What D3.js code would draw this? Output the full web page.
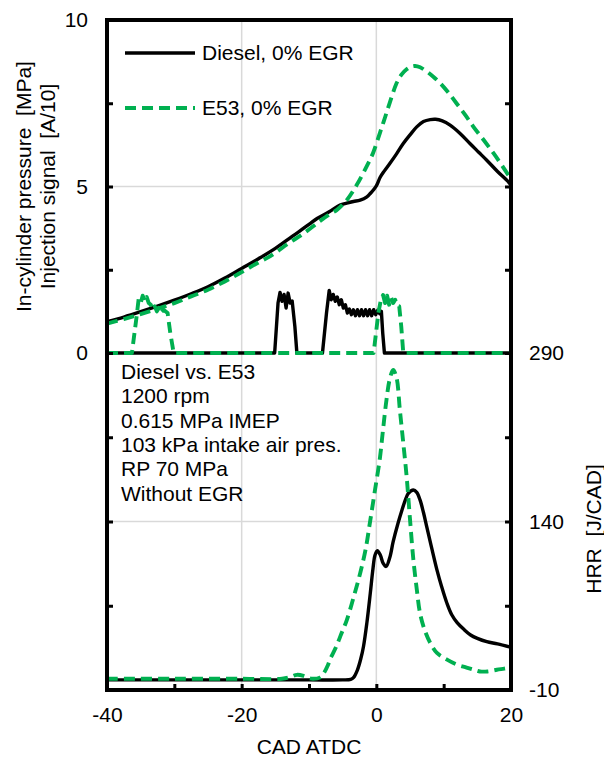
<!DOCTYPE html>
<html>
<head>
<meta charset="utf-8">
<script src="https://cdn.jsdelivr.net/npm/d3@7/dist/d3.min.js"></script>
<style>
  html, body { margin: 0; padding: 0; background: #fff; }
  svg { display: block; }
  text { font-family: "Liberation Sans", Arial, sans-serif; fill: #000; }
</style>
</head>
<body>
<div id="chart"></div>
<script>
// In-cylinder pressure [MPa] vs crank angle (CAD ATDC)
const dieselPressure = [
  [-40, 0.94], [-37.5, 1.08], [-35, 1.24], [-32.5, 1.41], [-30, 1.59], [-27.5, 1.78],
  [-25, 1.99], [-22.5, 2.25], [-20, 2.54], [-17.5, 2.83], [-15, 3.14], [-12.5, 3.5],
  [-10, 3.86], [-8.8, 4.04], [-7, 4.24], [-5.4, 4.44], [-4.4, 4.5], [-3.4, 4.55],
  [-2.4, 4.59], [-1.4, 4.69], [-0.9, 4.79], [0, 5.02], [0.55, 5.27], [1.2, 5.47],
  [2, 5.69], [3, 5.98], [4, 6.29], [5, 6.55], [6, 6.79], [7, 6.95], [8, 7.01],
  [8.8, 7.02], [9.8, 6.97], [10.9, 6.85], [12.4, 6.6], [13.9, 6.29], [15.2, 6.03],
  [16.4, 5.79], [18, 5.45], [19.6, 5.14], [20, 5.04]
];
const e53Pressure = [
  [-40, 0.88], [-37.5, 1.02], [-35, 1.17], [-32.5, 1.33], [-30, 1.5], [-27.5, 1.7],
  [-25, 1.9], [-22.5, 2.15], [-20, 2.43], [-17.5, 2.72], [-15.8, 2.9], [-13, 3.3],
  [-10.8, 3.59], [-8.4, 3.96], [-7, 4.16], [-5.9, 4.29], [-4.4, 4.59], [-2.9, 5.05],
  [-1.4, 5.62], [-0.5, 6.0], [0.55, 6.62], [1.3, 7.08], [2.0, 7.52], [3.0, 8.1],
  [3.7, 8.35], [4.5, 8.52], [5.2, 8.6], [5.75, 8.62], [6.5, 8.58], [7.5, 8.45],
  [8.5, 8.29], [9.5, 8.1], [10.7, 7.82], [11.9, 7.5], [13.2, 7.15], [14.4, 6.8],
  [16, 6.38], [17.4, 6.0], [18.7, 5.62], [20, 5.22]
];

// Injection signal [A/10]
const dieselInjection = [
  [-40, 0], [-15.1, 0], [-14.6, 1.5], [-14.3, 1.82], [-14.0, 1.55], [-13.7, 1.76],
  [-13.4, 1.35], [-13.1, 1.8], [-12.8, 1.5], [-12.5, 1.56], [-12.1, 0.8], [-11.8, 0],
  [-8.0, 0], [-7.4, 1.2], [-7.0, 1.88], [-6.7, 1.6], [-6.4, 1.76], [-6.1, 1.55],
  [-5.8, 1.68], [-5.5, 1.45], [-5.2, 1.6], [-4.9, 1.35], [-4.6, 1.45], [-4.3, 1.2],
  [-4.0, 1.32], [-3.7, 1.15], [-3.4, 1.3], [-3.1, 1.12], [-2.8, 1.3], [-2.5, 1.12],
  [-2.2, 1.3], [-1.9, 1.12], [-1.6, 1.3], [-1.3, 1.12], [-1.0, 1.3], [-0.7, 1.12],
  [-0.4, 1.3], [-0.1, 1.15], [0.2, 1.28], [0.5, 1.18], [0.75, 1.25], [0.95, 0.6],
  [1.2, 0], [20, 0]
];
const e53Injection = [
  [-40, 0], [-36.3, 0], [-35.6, 1.1], [-35.3, 1.62], [-35.0, 1.5], [-34.7, 1.72],
  [-34.4, 1.55], [-34.1, 1.68], [-33.8, 1.5], [-33.5, 1.45], [-33.2, 1.3], [-32.9, 1.4],
  [-32.6, 1.25], [-32.3, 1.36], [-32.0, 1.22], [-31.6, 1.3], [-31.0, 1.2], [-30.6, 0.6],
  [-30.1, 0], [-0.4, 0], [0.3, 1.2], [0.7, 1.62], [1.0, 1.74], [1.3, 1.5], [1.6, 1.72],
  [1.9, 1.45], [2.2, 1.66], [2.5, 1.5], [2.8, 1.6], [3.1, 1.42], [3.4, 1.4],
  [3.7, 0.8], [4.0, 0], [20, 0]
];

// Heat release rate [J/CAD]
const dieselHRR = [
  [-40, -1], [-30, -1], [-20, -1], [-10, -1], [-5, -1], [-3.8, -0.5], [-3.4, 1],
  [-2.8, 8], [-2.3, 18], [-1.9, 29], [-1.4, 50], [-0.9, 76], [-0.5, 98], [-0.2, 110],
  [0.15, 114], [0.6, 110], [1.0, 103], [1.45, 100], [2.0, 108], [2.5, 122], [3.2, 138],
  [3.8, 150], [4.3, 159], [4.75, 165], [5.5, 168], [6.0, 166], [6.5, 159], [7.0, 148],
  [7.5, 135], [8.2, 117], [9, 97], [9.7, 82], [10.5, 67], [11.2, 57], [12, 50],
  [13, 44], [14, 39], [15, 36], [16.4, 33], [18, 31], [20, 28]
];
const e53HRR = [
  [-40, 0], [-30, 0], [-20, 0], [-14, 0], [-12.8, 1.5], [-11.8, 3.5], [-10.8, 2.5],
  [-10, 0.5], [-9.4, 0], [-8.4, 1], [-7.8, 5], [-7.2, 12], [-6.9, 17], [-6, 28],
  [-5.2, 40], [-4.4, 52], [-3.4, 72], [-2.4, 94], [-1.6, 115], [-0.9, 141], [-0.2, 168],
  [0.5, 195], [1.0, 222], [1.5, 248], [2.0, 267], [2.5, 275], [3.0, 268], [3.5, 239],
  [4.0, 210], [4.5, 180], [5.0, 142], [5.5, 106], [6.0, 80], [6.5, 58], [7.2, 43],
  [8, 32], [9, 23], [10.5, 17], [12, 12.5], [13.4, 10], [14.5, 8], [15.4, 6.5],
  [16.5, 6.5], [17.9, 8], [19, 9], [20, 10]
];

// Axis ticks and labels
const xTicks = [-40, -30, -20, -10, 0, 10, 20];
const xLabels = [-40, -20, 0, 20];
const xGrid = [-20, 0];
const pTicks = [0, 2.5, 5, 7.5, 10];
const pLabels = [0, 5, 10];
const pGrid = [5];
const hTicks = [-10, 65, 140, 215, 290];
const hLabels = [-10, 140, 290];
const hGrid = [140];

const legendLabels = ["Diesel, 0% EGR", "E53, 0% EGR"];
const noteLines = [
  "Diesel vs. E53", "1200 rpm", "0.615 MPa IMEP",
  "103 kPa intake air pres.", "RP 70 MPa", "Without EGR"
];

const W = 604, H = 758;
const L = 107, R = 511, T = 20, B = 690, MID = 353;
const FONT = 21;
const BLACK = "#000", GREEN = "#00B050", GRID = "#d9d9d9";

const svg = d3.select("#chart").append("svg")
  .attr("width", W).attr("height", H)
  .style("background", "#fff");

const x = d3.scaleLinear().domain([-40, 20]).range([L, R]);
const yP = d3.scaleLinear().domain([0, 10]).range([MID, T]);
const yH = d3.scaleLinear().domain([-10, 290]).range([B, MID]);

// grid lines
const grid = svg.append("g").attr("stroke", GRID).attr("stroke-width", 1.5);
grid.selectAll(".gx").data(xGrid).join("line")
  .attr("x1", d => x(d)).attr("x2", d => x(d)).attr("y1", T).attr("y2", B);
grid.selectAll(".gp").data(pGrid).join("line")
  .attr("x1", L).attr("x2", R).attr("y1", d => yP(d)).attr("y2", d => yP(d));
grid.selectAll(".gh").data(hGrid).join("line")
  .attr("x1", L).attr("x2", R).attr("y1", d => yH(d)).attr("y2", d => yH(d));

// series
const lineP = d3.line().x(d => x(d[0])).y(d => yP(d[1])).curve(d3.curveCatmullRom.alpha(0.5));
const lineI = d3.line().x(d => x(d[0])).y(d => yP(d[1]));
const lineH = d3.line().x(d => x(d[0])).y(d => yH(d[1])).curve(d3.curveCatmullRom.alpha(0.5));

function solid(sel) {
  return sel.attr("fill", "none").attr("stroke", BLACK).attr("stroke-width", 3.4)
    .attr("stroke-linejoin", "round");
}
function dashed(sel) {
  return sel.attr("fill", "none").attr("stroke", GREEN).attr("stroke-width", 3.9)
    .attr("stroke-dasharray", "11,6").attr("stroke-linejoin", "round");
}

const plot = svg.append("g");
solid(plot.append("path").attr("d", lineP(dieselPressure)));
solid(plot.append("path").attr("d", lineI(dieselInjection)));
solid(plot.append("path").attr("d", lineH(dieselHRR)));
dashed(plot.append("path").attr("d", lineP(e53Pressure)));
dashed(plot.append("path").attr("d", lineI(e53Injection)));
dashed(plot.append("path").attr("d", lineH(e53HRR)));

// frame
svg.append("rect")
  .attr("x", L).attr("y", T).attr("width", R - L).attr("height", B - T)
  .attr("fill", "none").attr("stroke", BLACK).attr("stroke-width", 4);

// axes
function styleAxis(g) {
  g.select(".domain").remove();
  g.selectAll(".tick line").attr("stroke", BLACK).attr("stroke-width", 3);
  g.selectAll(".tick text").attr("font-size", FONT)
    .style("font-family", "'Liberation Sans', Arial, sans-serif").attr("fill", BLACK);
}
const fmt = labels => d => labels.includes(d) ? String(d) : "";

svg.append("g").attr("transform", `translate(0,${B})`)
  .call(d3.axisBottom(x).tickValues(xTicks).tickFormat(fmt(xLabels))
    .tickSizeInner(-6).tickSizeOuter(0).tickPadding(17))
  .call(styleAxis);

svg.append("g").attr("transform", `translate(${L},0)`)
  .call(d3.axisLeft(yP).tickValues(pTicks).tickFormat(fmt(pLabels))
    .tickSizeInner(-6).tickSizeOuter(0).tickPadding(19))
  .call(styleAxis);
svg.append("g").attr("transform", `translate(${L},0)`)
  .call(d3.axisLeft(yH).tickValues(hTicks.slice(1, 4)).tickFormat("")
    .tickSizeInner(-6).tickSizeOuter(0))
  .call(styleAxis);

svg.append("g").attr("transform", `translate(${R},0)`)
  .call(d3.axisRight(yH).tickValues(hTicks).tickFormat(fmt(hLabels))
    .tickSizeInner(-6).tickSizeOuter(0).tickPadding(18))
  .call(styleAxis);
svg.append("g").attr("transform", `translate(${R},0)`)
  .call(d3.axisRight(yP).tickValues(pTicks.slice(1, 4)).tickFormat("")
    .tickSizeInner(-6).tickSizeOuter(0))
  .call(styleAxis);

// axis titles
svg.append("text")
  .attr("x", (L + R) / 2).attr("y", 754)
  .attr("text-anchor", "middle").attr("font-size", FONT)
  .text("CAD ATDC");

const yTitle = svg.append("text")
  .attr("transform", `translate(0,${(T + MID) / 2}) rotate(-90)`)
  .attr("text-anchor", "middle").attr("font-size", FONT)
  .style("white-space", "pre");
yTitle.append("tspan").attr("x", 0).attr("y", 31).text("In-cylinder pressure  [MPa]");
yTitle.append("tspan").attr("x", 0).attr("y", 55).text("Injection signal  [A/10]");

svg.append("text")
  .attr("transform", `translate(0,529) rotate(-90)`)
  .attr("x", 0).attr("y", 601)
  .attr("text-anchor", "middle").attr("font-size", FONT)
  .style("white-space", "pre")
  .text("HRR  [J/CAD]");

// legend
const legend = svg.append("g");
const legY = [53, 108];
solid(legend.append("line").attr("x1", 125).attr("x2", 195).attr("y1", legY[0]).attr("y2", legY[0]));
dashed(legend.append("line").attr("x1", 125).attr("x2", 195).attr("y1", legY[1]).attr("y2", legY[1]));
legend.selectAll("text").data(legendLabels).join("text")
  .attr("x", 202).attr("y", (d, i) => legY[i] + 7)
  .attr("font-size", FONT).text(d => d);

// operating conditions
svg.append("g").selectAll("text").data(noteLines).join("text")
  .attr("x", 121).attr("y", (d, i) => 379 + i * 24.35)
  .attr("font-size", FONT).text(d => d);
</script>
</body>
</html>
